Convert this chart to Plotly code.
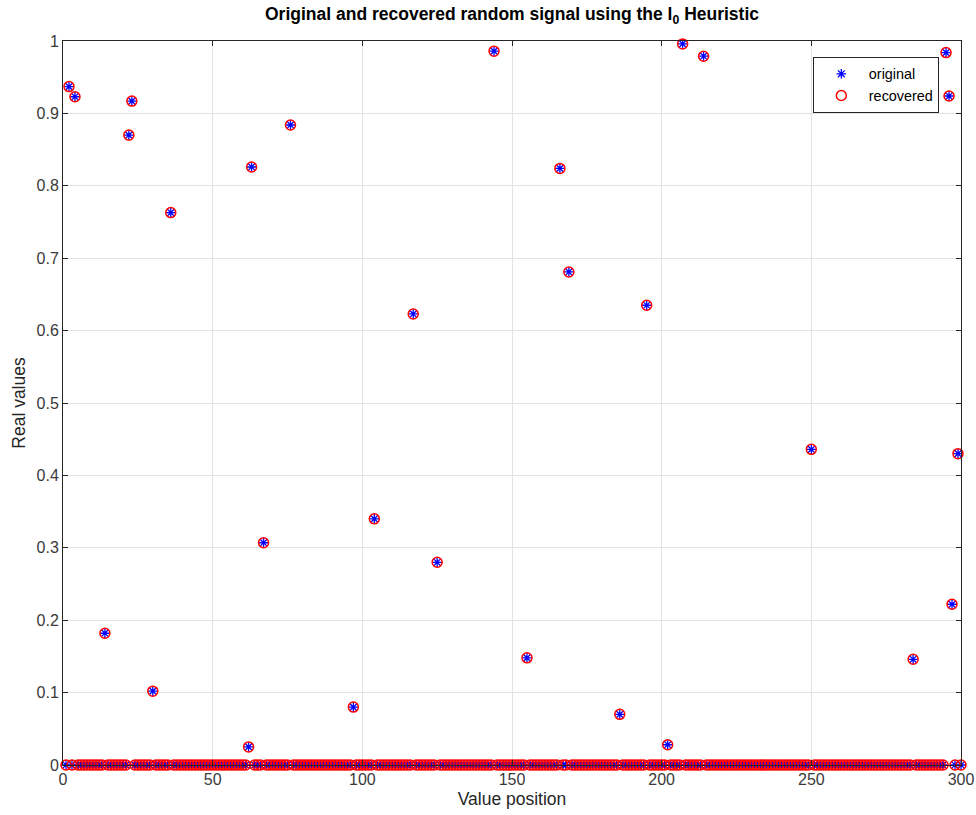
import plotly.graph_objects as go

# Sparse test signal: length, non-zero positions and their amplitudes
signal_length = 300
nonzero_positions = [2, 4, 14, 22, 23, 30, 36, 62, 63, 67, 76, 97, 104, 117, 125,
                     144, 155, 166, 169, 186, 195, 202, 207, 214, 250, 284, 295,
                     296, 297, 299]
original_values = [0.937, 0.923, 0.182, 0.870, 0.917, 0.102, 0.763, 0.025, 0.826,
                   0.307, 0.884, 0.080, 0.340, 0.623, 0.280, 0.986, 0.148, 0.824,
                   0.681, 0.070, 0.635, 0.028, 0.996, 0.979, 0.436, 0.146, 0.984,
                   0.924, 0.222, 0.430]
recovered_values = list(original_values)

x_ticks = [0, 50, 100, 150, 200, 250, 300]
y_ticks = [0, 0.1, 0.2, 0.3, 0.4, 0.5, 0.6, 0.7, 0.8, 0.9, 1]
y_tick_text = ["0", "0.1", "0.2", "0.3", "0.4", "0.5", "0.6", "0.7", "0.8", "0.9", "1"]

positions = list(range(1, signal_length + 1))
original = [0.0] * signal_length
recovered = [0.0] * signal_length
for p, v in zip(nonzero_positions, original_values):
    original[p - 1] = v
for p, v in zip(nonzero_positions, recovered_values):
    recovered[p - 1] = v

FONT = "Liberation Sans, Arial, Helvetica, sans-serif"
AX = "#262626"

fig = go.Figure()
fig.add_trace(go.Scatter(
    x=positions, y=original, mode="markers", name="original",
    cliponaxis=False,
    marker=dict(symbol="asterisk-open", size=8, color="#0000ff",
                line=dict(color="#0000ff", width=1.3)),
))
fig.add_trace(go.Scatter(
    x=positions, y=recovered, mode="markers", name="recovered",
    cliponaxis=False,
    marker=dict(symbol="circle-open", size=10, color="#ff0000",
                line=dict(color="#ff0000", width=1.5)),
))

axis_common = dict(
    showline=True, linecolor=AX, linewidth=1, mirror="ticks",
    ticks="inside", ticklen=5, tickcolor=AX,
    showgrid=True, gridcolor="#e3e3e3", gridwidth=1,
    zeroline=False, automargin=False,
    tickfont=dict(family=FONT, size=16, color="#3a3a3a"),
)

fig.update_layout(
    width=976, height=815,
    margin=dict(l=63, r=15, t=41, b=50),
    paper_bgcolor="white", plot_bgcolor="white",
    font=dict(family=FONT, color=AX),
    title=dict(
        text="<b>Original and recovered random signal using the l<sub>0</sub> Heuristic</b>",
        x=512 / 976, xanchor="center", y=0.99, yanchor="top",
        font=dict(family=FONT, size=17.5, color="#000000"),
    ),
    xaxis=dict(range=[0, 300], tickvals=x_ticks,
               title=dict(text="Value position", standoff=5,
                          font=dict(family=FONT, size=17.5, color=AX)),
               **axis_common),
    yaxis=dict(range=[0, 1], tickvals=y_ticks, ticktext=y_tick_text,
               title=dict(text="Real values", standoff=6,
                          font=dict(family=FONT, size=17.5, color=AX)),
               **axis_common),
    legend=dict(
        x=0.835, y=0.978, xanchor="left", yanchor="top",
        bgcolor="white", bordercolor=AX, borderwidth=1,
        font=dict(family=FONT, size=14.4, color="#000000"),
        itemwidth=45, tracegroupgap=0,
    ),
)

fig.write_html("out.html")
